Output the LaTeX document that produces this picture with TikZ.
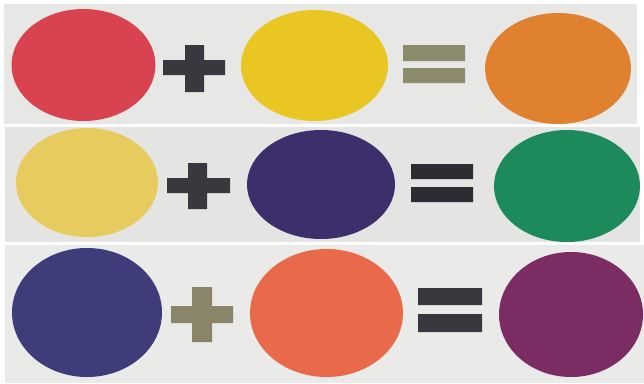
\documentclass[tikz,border=0pt]{standalone}
\usetikzlibrary{shapes.geometric}
\definecolor{cred}{HTML}{D9434F}
\definecolor{cyel}{HTML}{E9C622}
\definecolor{corg}{HTML}{E0812F}
\definecolor{clyel}{HTML}{E8CB5E}
\definecolor{cpur}{HTML}{3D2F6B}
\definecolor{cgrn}{HTML}{1D8A5B}
\definecolor{cblu}{HTML}{3F3C7A}
\definecolor{cror}{HTML}{E96A4A}
\definecolor{cmag}{HTML}{7B2C63}
\definecolor{sdark}{HTML}{38383F}
\definecolor{solive}{HTML}{8C8B6C}
\definecolor{sdark2}{HTML}{2E2C33}
\definecolor{solive3}{HTML}{8A8568}
\definecolor{bg1}{HTML}{E7E7E5}
\definecolor{bg2}{HTML}{E4E4E2}
\definecolor{bg3}{HTML}{EAEAE9}
\tikzset{dot/.style={ellipse,draw=none,inner sep=0pt}}
\begin{document}
\begin{tikzpicture}[x=1pt,y=-1pt]
\useasboundingbox (0,0) rectangle (644,383);
\fill[white] (0,0) rectangle (644,383);
\fill[bg1] (4,4) rectangle (637,124);
\fill[bg2] (5,127) rectangle (640,242);
\fill[bg3] (5,245) rectangle (644,383);
% row 1
\node[dot,fill=cred,minimum width=144pt,minimum height=112pt] (r1a) at (83.5,65) {};
\node[dot,fill=cyel,minimum width=147pt,minimum height=111pt] (r1b) at (314.5,65.5) {};
\node[dot,fill=corg,minimum width=146pt,minimum height=111pt] (r1c) at (558,68.5) {};
\fill[sdark] (163,60) rectangle (225,75) (185,45) rectangle (204,92);
\fill[solive] (403,45) rectangle (465,61) (403,68) rectangle (465,83);
% row 2
\node[dot,fill=clyel,minimum width=142pt,minimum height=109pt] (r2a) at (87,182.5) {};
\node[dot,fill=cpur,minimum width=148pt,minimum height=109pt] (r2b) at (321,184.5) {};
\node[dot,fill=cgrn,minimum width=146pt,minimum height=112pt] (r2c) at (567,186) {};
\fill[sdark] (167,178) rectangle (230,193) (188,163) rectangle (207,209);
\fill[sdark2] (411,164) rectangle (473,179) (411,187) rectangle (473,202);
% row 3
\node[dot,fill=cblu,minimum width=150pt,minimum height=129pt] (r3a) at (87,312.5) {};
\node[dot,fill=cror,minimum width=153pt,minimum height=128pt] (r3b) at (326.5,313) {};
\node[dot,fill=cmag,minimum width=144pt,minimum height=125pt] (r3c) at (571,314.5) {};
\fill[solive3] (171,306) rectangle (233,323) (192,287) rectangle (212,342);
\fill[sdark] (418,288) rectangle (482,305) (418,314) rectangle (482,332);
\end{tikzpicture}
\end{document}
